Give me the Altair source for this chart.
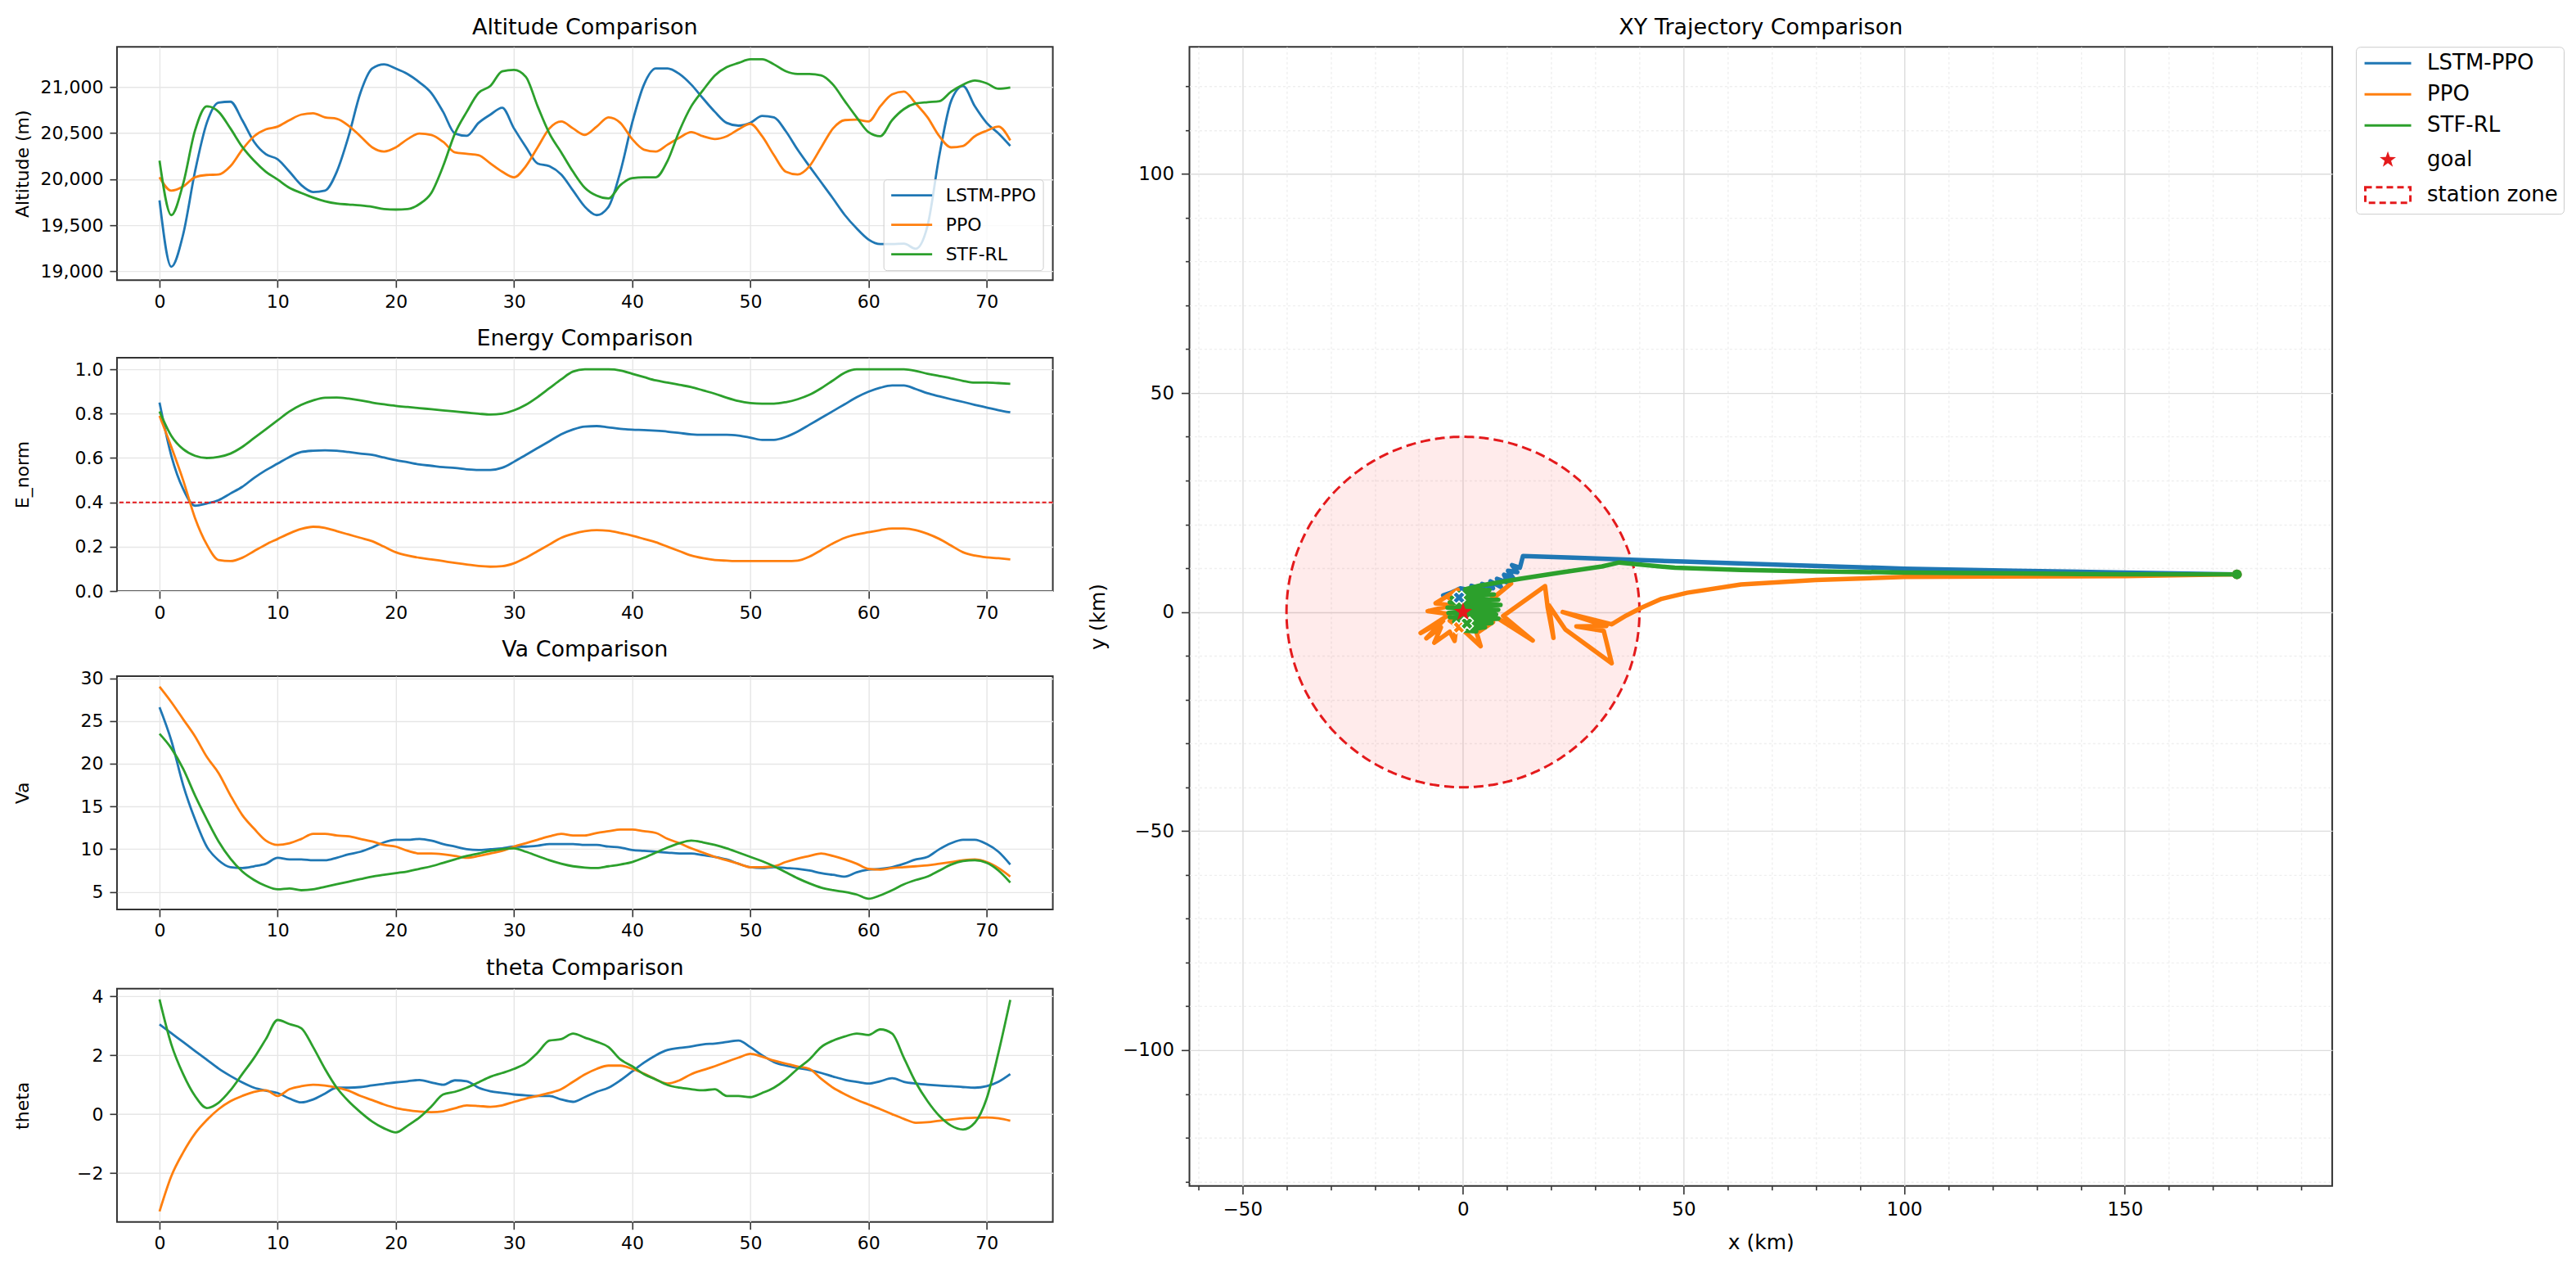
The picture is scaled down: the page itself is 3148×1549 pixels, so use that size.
import altair as alt
import numpy as np
import pandas as pd

SERIES = ["LSTM-PPO", "PPO", "STF-RL"]
COLORS = ["#1f77b4", "#ff7f0e", "#2ca02c"]
RED = "#e41a1c"
T = list(range(73))

ALT_LSTM = [19770, 19050, 19400, 20080, 20610, 20830, 20840, 20640, 20405, 20270,
            20215, 20080, 19935, 19860, 19875, 20080, 20465, 20935, 21200, 21245,
            21200, 21140, 21050, 20935, 20730, 20495, 20470, 20610, 20700, 20775,
            20550, 20350, 20170, 20140, 20050, 19875, 19700, 19610, 19700, 20080,
            20610, 21025, 21200, 21200, 21140, 21025, 20875, 20730, 20610, 20580,
            20610, 20685, 20670, 20520, 20320, 20140, 19965, 19790, 19610, 19465,
            19345, 19295, 19295, 19300, 19245, 19495, 20260, 20850, 21010, 20790,
            20610, 20495, 20360]
ALT_PPO = [20020, 19875, 19920, 20020, 20045, 20050, 20140, 20320, 20465, 20540,
           20570, 20640, 20700, 20715, 20670, 20655, 20580, 20465, 20345, 20300,
           20345, 20435, 20495, 20480, 20405, 20290, 20275, 20260, 20170, 20080,
           20020, 20140, 20345, 20550, 20625, 20550, 20480, 20570, 20670, 20610,
           20435, 20320, 20300, 20375, 20450, 20510, 20465, 20435, 20465, 20540,
           20600, 20465, 20260, 20080, 20050, 20140, 20345, 20550, 20640, 20645,
           20625, 20790, 20920, 20950, 20820, 20670, 20465, 20345, 20360, 20465,
           20525, 20570, 20420]
ALT_STF = [20200, 19610, 19950, 20525, 20790, 20730, 20550, 20350, 20200, 20080,
           19995, 19905, 19850, 19800, 19760, 19735, 19725, 19715, 19700, 19675,
           19670, 19675, 19730, 19850, 20140, 20495, 20730, 20935, 21010, 21170,
           21185, 21110, 20790, 20495, 20290, 20080, 19905, 19820, 19790, 19935,
           20010, 20020, 20020, 20200, 20525, 20790, 20965, 21125, 21215, 21260,
           21300, 21300, 21245, 21170, 21140, 21140, 21125, 21025, 20845, 20670,
           20510, 20465, 20640, 20760, 20820, 20835, 20845, 20950, 21025, 21070,
           21040, 20980, 20995]

ENERGY_LSTM = [0.85, 0.61, 0.46, 0.385, 0.395, 0.41, 0.44, 0.47, 0.51, 0.545,
               0.575, 0.605, 0.627, 0.633, 0.635, 0.633, 0.627, 0.62, 0.614, 0.602,
               0.59, 0.581, 0.571, 0.565, 0.559, 0.555, 0.549, 0.546, 0.546, 0.556,
               0.583, 0.614, 0.645, 0.676, 0.707, 0.729, 0.742, 0.744, 0.738, 0.732,
               0.728, 0.726, 0.723, 0.719, 0.713, 0.707, 0.705, 0.705, 0.705, 0.701,
               0.692, 0.682, 0.682, 0.695, 0.719, 0.75, 0.781, 0.812, 0.843, 0.874,
               0.899, 0.917, 0.927, 0.927, 0.911, 0.892, 0.878, 0.865, 0.853, 0.84,
               0.828, 0.816, 0.806]
ENERGY_PPO = [0.79, 0.65, 0.50, 0.33, 0.21, 0.14, 0.135, 0.15, 0.18, 0.21,
              0.235, 0.26, 0.28, 0.29, 0.285, 0.27, 0.255, 0.24, 0.225, 0.2,
              0.175, 0.16, 0.15, 0.143, 0.135, 0.127, 0.12, 0.113, 0.11, 0.112,
              0.125, 0.15, 0.18, 0.21, 0.24, 0.258, 0.27, 0.275, 0.272, 0.262,
              0.25, 0.235, 0.22, 0.2, 0.18, 0.16, 0.148, 0.14, 0.137, 0.135,
              0.135, 0.135, 0.135, 0.135, 0.137, 0.155, 0.185, 0.215, 0.24, 0.255,
              0.265, 0.275, 0.282, 0.282, 0.275, 0.258, 0.235, 0.205, 0.175, 0.16,
              0.152, 0.148, 0.143]
ENERGY_STF = [0.81, 0.70, 0.64, 0.61, 0.60, 0.605, 0.62, 0.65, 0.69, 0.73,
              0.77, 0.81, 0.84, 0.86, 0.872, 0.873, 0.868, 0.86, 0.85, 0.842,
              0.835, 0.83, 0.825, 0.82, 0.815, 0.81, 0.805, 0.8, 0.796, 0.8,
              0.815, 0.84, 0.875, 0.915, 0.955, 0.99, 1.0, 1.0, 1.0, 0.995,
              0.98, 0.965, 0.95, 0.94, 0.93, 0.92, 0.905, 0.89, 0.872, 0.857,
              0.848, 0.845, 0.845, 0.852, 0.865, 0.885, 0.915, 0.95, 0.985, 1.0,
              1.0, 1.0, 1.0, 1.0, 0.993, 0.98, 0.97, 0.96, 0.948, 0.94,
              0.94, 0.938, 0.935]
ENERGY_THRESHOLD = 0.4

VA_LSTM = [26.6, 22.7, 17.5, 13.5, 10.3, 8.7, 7.9, 7.8, 8.0, 8.3,
           9.0, 8.8, 8.8, 8.7, 8.7, 9.0, 9.4, 9.7, 10.2, 10.8,
           11.1, 11.1, 11.2, 11.0, 10.6, 10.3, 10.0, 9.9, 10.0, 10.1,
           10.3, 10.3, 10.4, 10.6, 10.6, 10.6, 10.5, 10.5, 10.3, 10.2,
           9.9, 9.8, 9.7, 9.6, 9.5, 9.5, 9.3, 9.1, 8.8, 8.3,
           7.9, 7.8, 7.9, 7.8, 7.7, 7.5, 7.2, 7.0, 6.8, 7.3,
           7.6, 7.7, 7.9, 8.3, 8.8, 9.1, 10.0, 10.7, 11.1, 11.1,
           10.6, 9.7, 8.2]
VA_PPO = [29.0, 27.2, 25.2, 23.2, 20.8, 18.9, 16.3, 14.0, 12.4, 11.0,
          10.5, 10.7, 11.2, 11.8, 11.8, 11.6, 11.5, 11.2, 10.9, 10.5,
          10.3, 9.8, 9.5, 9.5, 9.4, 9.2, 9.0, 9.2, 9.5, 9.8,
          10.3, 10.7, 11.1, 11.5, 11.8, 11.6, 11.6, 11.9, 12.1, 12.3,
          12.3, 12.1, 11.9, 11.2, 10.7, 10.1, 9.6, 9.1, 8.7, 8.3,
          7.9, 7.9, 8.0, 8.5, 8.9, 9.2, 9.5, 9.2, 8.8, 8.3,
          7.7, 7.6, 7.8, 7.9, 8.0, 8.1, 8.3, 8.5, 8.7, 8.8,
          8.5, 7.8, 6.8]
VA_STF = [23.5, 21.8, 19.4, 16.3, 13.5, 10.9, 8.9, 7.4, 6.4, 5.7,
          5.3, 5.4, 5.2, 5.3, 5.6, 5.9, 6.2, 6.5, 6.8, 7.0,
          7.2, 7.4, 7.7, 8.0, 8.4, 8.8, 9.2, 9.5, 9.8, 10.0,
          10.1, 9.7, 9.2, 8.7, 8.3, 8.0, 7.85, 7.8, 8.0, 8.2,
          8.5, 9.0, 9.6, 10.2, 10.7, 11.0, 10.8, 10.5, 10.1, 9.6,
          9.1, 8.6, 8.0, 7.3, 6.6, 6.0, 5.5, 5.2, 5.0, 4.7,
          4.2, 4.6, 5.2, 5.9, 6.4, 6.8, 7.5, 8.2, 8.6, 8.7,
          8.4, 7.5, 6.1]

THETA_LSTM = [3.05, 2.75, 2.45, 2.15, 1.85, 1.55, 1.3, 1.08, 0.9, 0.8,
              0.72, 0.53, 0.4, 0.5, 0.7, 0.9, 0.9, 0.92, 0.98, 1.03,
              1.08, 1.12, 1.16, 1.08, 1.0, 1.15, 1.12, 0.9, 0.78, 0.72,
              0.67, 0.64, 0.62, 0.62, 0.5, 0.42, 0.58, 0.76, 0.9, 1.15,
              1.45, 1.75, 2.0, 2.18, 2.25, 2.3, 2.37, 2.4, 2.45, 2.5,
              2.28, 2.0, 1.77, 1.65, 1.57, 1.5, 1.4, 1.28, 1.17, 1.1,
              1.04, 1.12, 1.22, 1.1, 1.04, 1.0, 0.97, 0.95, 0.92, 0.9,
              0.95, 1.1, 1.36]
THETA_PPO = [-3.3, -2.1, -1.3, -0.66, -0.2, 0.17, 0.44, 0.62, 0.76, 0.81,
             0.62, 0.85, 0.95, 1.0, 0.97, 0.9, 0.8, 0.62, 0.48, 0.33,
             0.21, 0.14, 0.09, 0.07, 0.1, 0.2, 0.3, 0.28, 0.25, 0.3,
             0.42, 0.53, 0.62, 0.72, 0.85, 1.1, 1.35, 1.54, 1.65, 1.65,
             1.54, 1.38, 1.18, 1.04, 1.15, 1.36, 1.5, 1.63, 1.78, 1.92,
             2.05, 1.95, 1.82, 1.72, 1.62, 1.54, 1.2, 0.9, 0.68, 0.49,
             0.33, 0.17, 0.0, -0.16, -0.29, -0.27, -0.22, -0.18, -0.14, -0.12,
             -0.11, -0.14, -0.22]
THETA_STF = [3.9, 2.37, 1.36, 0.62, 0.21, 0.39, 0.81, 1.36, 1.91, 2.55,
             3.2, 3.06, 2.92, 2.28, 1.54, 0.9, 0.44, 0.07, -0.25, -0.48,
             -0.62, -0.39, -0.11, 0.26, 0.67, 0.76, 0.9, 1.08, 1.27, 1.4,
             1.54, 1.73, 2.09, 2.5, 2.55, 2.74, 2.6, 2.46, 2.28, 1.86,
             1.63, 1.36, 1.18, 0.99, 0.9, 0.85, 0.81, 0.85, 0.62, 0.62,
             0.58, 0.72, 0.9, 1.18, 1.54, 1.86, 2.28, 2.5, 2.64, 2.74,
             2.69, 2.88, 2.74, 1.91, 1.08, 0.44, -0.06, -0.39, -0.52, -0.29,
             0.53, 2.09, 3.88]

# XY trajectories (km)
X_LSTM = [175.4, 150, 125, 100, 75, 50, 25, 13.6, 12.9, 11.1, 12.3, 10.2, 11.4, 9.3,
          10.2, 7.7, 8.6, 6.2, 6.8, 4.3, 4.6, 1.9, 2.5, -0.6, -2.5, -4.5, -1.5, -0.9]
Y_LSTM = [8.6, 9.0, 9.4, 9.9, 10.7, 11.5, 12.4, 12.8, 10.1, 10.7, 9.1, 9.4, 7.7, 8.5,
          6.7, 7.6, 5.7, 7.0, 5.4, 6.4, 5.1, 6.0, 4.8, 5.4, 4.5, 3.8, 3.6, 3.3]
X_PPO = [175.4, 150, 120, 100, 80, 63, 50.8, 45, 40.5, 37, 33.7, 22.6, 32.5, 25.7, 31.9,
         33.7, 23.2, 19.5, 20.5, 19.2, 18.6, 9.1, 15.8, 8, 3, -3.7, -1.2, -6.2, -2.5, -8,
         -3, -9.6, -4.5, -8.3, -5, -6.5, -3, -1.9, -1.5, 1, 4, 3.1, 6.8, 2, 4, 10.9, 7.2,
         1, -3, -0.9]
Y_PPO = [8.6, 8.2, 8.1, 8.0, 7.3, 6.3, 4.4, 3.0, 1.0, -0.8, -2.8, 0.0, -3.2, -3.3, -4.3,
         -11.7, -4.0, 1.5, -5.9, 1.0, 5.9, -0.9, -6.5, -1.5, -1.0, 3.6, 5.1, 2.0, 1.5, 0.2,
         -0.5, -4.8, -2.0, -6.0, -3.5, -7.0, -4.5, -6.6, -3.0, -5.0, -7.8, -4.8, -2.3, -2.0,
         1.0, 6.5, 3.4, 0.0, -2.0, -3.5]
X_STF = [175.4, 150, 125, 100, 80, 63, 48, 35.4, 31.5, 22, 13, 3.7, 0.5, 6, -1.5, 7, -2.5,
         8, -3, 8.5, -3.5, 8, -3.3, 7.5, -3, 8, -2, 6.5, -1, 5, 0, 3, 0.9]
Y_STF = [8.6, 8.6, 8.8, 9.0, 9.3, 9.6, 10.1, 11.3, 10.4, 9.0, 7.6, 6.0, 5.2, 5.0, 4.2, 4.0,
         3.2, 2.8, 2.2, 1.6, 1.0, 0.5, -0.2, -0.6, -1.2, -1.5, -2.2, -2.5, -3.2, -3.5,
         -4.2, -4.4, -2.6]

GOAL_X, GOAL_Y = 0.0, 0.0
STATION_RADIUS = 40.0
LEGEND_ENTRIES = ["LSTM-PPO", "PPO", "STF-RL", "goal", "station zone"]

FONT = "DejaVu Sans"
PANEL_W, PANEL_H = 1144, 285
XY_W, XY_H = 1397, 1392


def long_df(arrays):
    rows = []
    for s, vals in zip(SERIES, arrays):
        for t, v in zip(T, vals):
            rows.append({"t": t, "v": v, "series": s})
    return pd.DataFrame(rows)


def panel(title, ytitle, arrays, domain, ticks, fmt, legend=None, threshold=None):
    df = long_df(arrays)
    x_enc = alt.X("t:Q", scale=alt.Scale(domain=[-3.6, 75.6], nice=False, zero=False),
                  axis=alt.Axis(values=list(range(0, 71, 10)), format="d", title=None,
                                labelFontSize=22, tickSize=9, labelPadding=7))
    y_enc = alt.Y("v:Q", scale=alt.Scale(domain=domain, nice=False, zero=False),
                  axis=alt.Axis(values=ticks, format=fmt, title=ytitle,
                                labelFontSize=22, titleFontSize=22, tickSize=9, labelPadding=8,
                                minExtent=90, maxExtent=90, titleX=-103))
    color = alt.Color("series:N", scale=alt.Scale(domain=SERIES, range=COLORS), legend=legend)
    lines = alt.Chart(df).mark_line(strokeWidth=2.8, interpolate="monotone").encode(
        x=x_enc, y=y_enc, color=color)
    layers = [lines]
    if threshold is not None:
        rule = alt.Chart(pd.DataFrame({"v": [threshold]})).mark_rule(
            color=RED, strokeDash=[5, 3], strokeWidth=2).encode(y=y_enc)
        layers.append(rule)
    return alt.layer(*layers).properties(width=PANEL_W, height=PANEL_H, title=title)


alt_legend = alt.Legend(title=None, orient="bottom-right", offset=12,
                        symbolType="M-1,0L4,0", symbolSize=400, symbolStrokeWidth=2.8,
                        labelFontSize=22, labelOffset=45, rowPadding=13, padding=8,
                        fillColor="rgba(255,255,255,0.8)", strokeColor="#cccccc",
                        cornerRadius=4)

p1 = panel("Altitude Comparison", "Altitude (m)", [ALT_LSTM, ALT_PPO, ALT_STF],
           [18905, 21435], [19000, 19500, 20000, 20500, 21000], ",.0f", legend=alt_legend)
p2 = panel("Energy Comparison", "E_norm", [ENERGY_LSTM, ENERGY_PPO, ENERGY_STF],
           [0, 1.052], [0, 0.2, 0.4, 0.6, 0.8, 1.0], ".1f", threshold=ENERGY_THRESHOLD)
p3 = panel("Va Comparison", "Va", [VA_LSTM, VA_PPO, VA_STF],
           [2.96, 30.24], [5, 10, 15, 20, 25, 30], "d")
p4 = panel("theta Comparison", "theta", [THETA_LSTM, THETA_PPO, THETA_STF],
           [-3.66, 4.26], [-2, 0, 2, 4], "d")

left = alt.vconcat(p1, p2, p3, p4, spacing=19).resolve_scale(
    color="independent").resolve_legend(color="independent")

# ---------- XY panel ----------
COND = "datum.value % 50 === 0"


def minor_axis(title, values, **kw):
    return alt.Axis(values=values, title=title, format="d", labelOverlap=False,
                    labelExpr=f"{COND} ? datum.label : ''",
                    labelFontSize=23, titleFontSize=25,
                    tickSize={"condition": {"test": COND, "value": 10}, "value": 5},
                    gridColor={"condition": {"test": COND, "value": "#dcdcdc"}, "value": "#efefef"},
                    gridDash={"condition": {"test": COND, "value": []}, "value": [3, 3]},
                    **kw)


xx = alt.X("x:Q", scale=alt.Scale(domain=[-62, 197], nice=False, zero=False),
           axis=minor_axis("x (km)", list(range(-60, 191, 10)),
                           labelPadding=8, minExtent=42, maxExtent=42, titlePadding=15))
yy = alt.Y("y:Q", scale=alt.Scale(domain=[-131, 129], nice=False, zero=False),
           axis=minor_axis("y (km)", list(range(-130, 121, 10)),
                           labelPadding=9, minExtent=90, maxExtent=90, titleX=-99))
cxy = alt.Color("series:N", scale=alt.Scale(domain=SERIES, range=COLORS), legend=None)

ang_half = np.linspace(np.pi, 0, 241)
circ_fill_df = pd.DataFrame({
    "x": GOAL_X + STATION_RADIUS * np.cos(ang_half),
    "y": GOAL_Y + STATION_RADIUS * np.sin(ang_half),
    "y2": GOAL_Y - STATION_RADIUS * np.sin(ang_half),
})
ang_full = np.linspace(0, 2 * np.pi, 481)
circ_line_df = pd.DataFrame({
    "x": GOAL_X + STATION_RADIUS * np.cos(ang_full),
    "y": GOAL_Y + STATION_RADIUS * np.sin(ang_full),
    "i": np.arange(len(ang_full)),
})

circle_fill = alt.Chart(circ_fill_df).mark_area(color="#ff0000", opacity=0.08).encode(
    x=xx, y=yy, y2="y2:Q")
circle_line = alt.Chart(circ_line_df).mark_line(
    color=RED, strokeDash=[12, 6], strokeWidth=3).encode(x=xx, y=yy, order="i:Q")

traj = {"LSTM-PPO": (X_LSTM, Y_LSTM), "PPO": (X_PPO, Y_PPO), "STF-RL": (X_STF, Y_STF)}
line_layers, start_layers, end_layers = [], [], []
for s in SERIES:
    xs, ys = traj[s]
    df = pd.DataFrame({"x": xs, "y": ys, "i": range(len(xs)), "series": s})
    line_layers.append(alt.Chart(df).mark_line(
        strokeWidth=5.5, strokeJoin="round", strokeCap="round").encode(
        x=xx, y=yy, order="i:Q", color=cxy))
    start_layers.append(alt.Chart(df.iloc[[0]]).mark_point(
        shape="circle", filled=True, size=140, opacity=1).encode(x=xx, y=yy, color=cxy))
    end_layers.append(alt.Chart(df.iloc[[-1]]).mark_point(
        shape="cross", angle=45, filled=True, size=240, opacity=1,
        stroke="white", strokeWidth=1.6).encode(x=xx, y=yy, color=cxy))


def star_path(cx, r_out, r_in):
    pts = []
    for k in range(10):
        a = np.deg2rad(-90 + 36 * k)
        r = r_out if k % 2 == 0 else r_in
        pts.append(f"{cx + r * np.cos(a):.3f},{r * np.sin(a):.3f}")
    return "M" + "L".join(pts) + "Z"


goal = alt.Chart(pd.DataFrame({"x": [GOAL_X], "y": [GOAL_Y]})).mark_point(
    shape=star_path(0, 1.0, 0.4), filled=True, fill=RED, size=560, opacity=1,
    strokeWidth=0).encode(x=xx, y=yy)

LINE_SYM = "M-1,0L5,0"
RECT_SYM = "M-0.9,-1L4.9,-1L4.9,1L-0.9,1Z"
STAR_SYM = star_path(2, 1.1, 0.44)
leg_props = dict(title=None, orient="right", offset=29, padding=7, symbolSize=361,
                 symbolStrokeWidth=3, symbolFillColor="transparent", labelFontSize=26,
                 labelOffset=54, rowPadding=12, strokeColor="#cccccc", cornerRadius=5,
                 fillColor="white")
legend_layer = alt.Chart(pd.DataFrame({"entry": LEGEND_ENTRIES})).transform_filter(
    "false").mark_point(opacity=1, strokeWidth=3).encode(
    fill=alt.Fill("entry:N", scale=alt.Scale(
        domain=LEGEND_ENTRIES,
        range=["transparent", "transparent", "transparent", RED, "transparent"]),
        legend=alt.Legend(**leg_props)),
    stroke=alt.Stroke("entry:N", scale=alt.Scale(
        domain=LEGEND_ENTRIES, range=COLORS + ["transparent", RED]),
        legend=alt.Legend(**leg_props)),
    shape=alt.Shape("entry:N", scale=alt.Scale(
        domain=LEGEND_ENTRIES, range=[LINE_SYM, LINE_SYM, LINE_SYM, STAR_SYM, RECT_SYM]),
        legend=alt.Legend(**leg_props)),
    strokeDash=alt.StrokeDash("entry:N", scale=alt.Scale(
        domain=LEGEND_ENTRIES, range=[[1, 0], [1, 0], [1, 0], [1, 0], [8, 5]]),
        legend=alt.Legend(**leg_props)),
)

right = alt.layer(circle_fill, circle_line, *line_layers, *start_layers, *end_layers,
                  goal, legend_layer).properties(
    width=XY_W, height=XY_H, title="XY Trajectory Comparison")

chart = alt.hconcat(left, right, spacing=40).resolve_scale(
    color="independent", fill="independent", stroke="independent",
    shape="independent", strokeDash="independent").resolve_legend(
    color="independent", fill="independent", stroke="independent",
    shape="independent", strokeDash="independent").properties(
    padding={"left": 7, "top": 10, "right": 5, "bottom": 5}
).configure(font=FONT).configure_view(
    stroke="#333333", strokeWidth=2
).configure_axis(
    labelFont=FONT, titleFont=FONT, labelFontSize=22, titleFontSize=22,
    titleFontWeight="normal", labelColor="#000000", titleColor="#000000",
    tickColor="#333333", tickSize=9, tickWidth=1.6, domain=False,
    gridColor="#e6e6e6", gridWidth=1.4, labelPadding=8
).configure_title(
    font=FONT, fontSize=27, fontWeight="normal", color="#000000", offset=9, anchor="middle"
).configure_legend(labelFont=FONT, labelColor="#000000")

chart.save("out.html", embed_options={"renderer": "svg", "actions": False})
